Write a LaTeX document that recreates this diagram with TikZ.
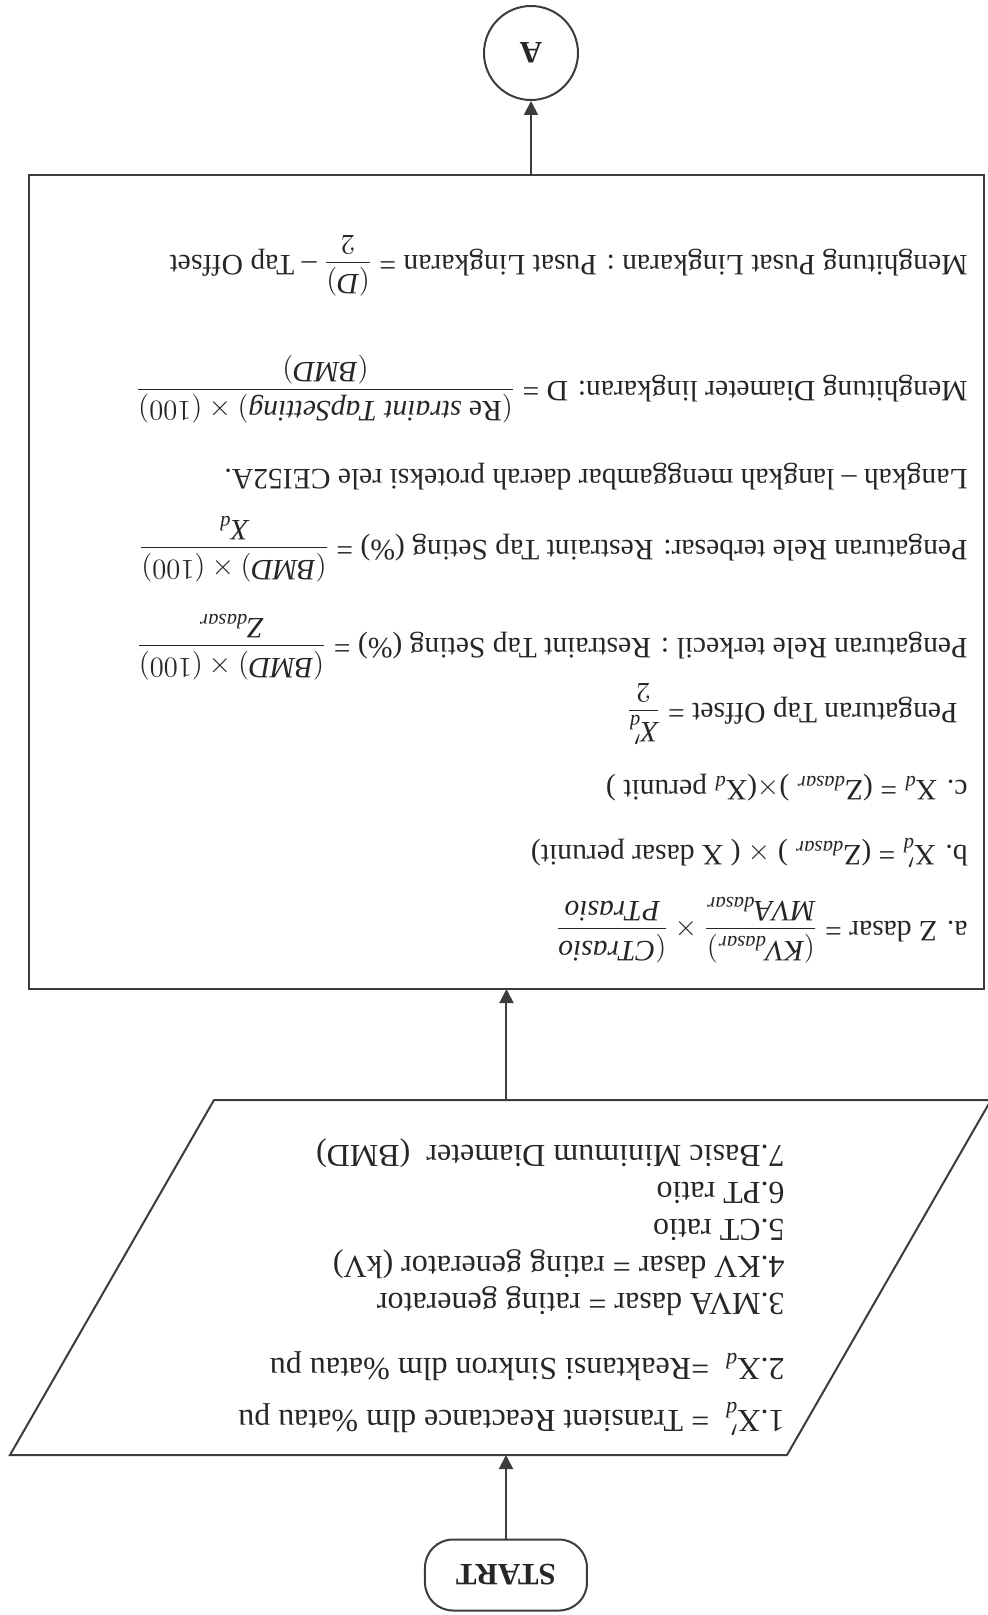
\documentclass[tikz,border=0pt]{standalone}
\usepackage{fontspec}
\setmainfont{Liberation Serif}
\usetikzlibrary{positioning,arrows.meta}
\definecolor{ink}{HTML}{262626}
\definecolor{rule}{HTML}{3C3C3C}
\tikzset{
  startbox/.style = {draw=rule, line width=1pt, rounded corners=14pt, minimum width=81pt, minimum height=35.5pt, inner sep=0pt, font=\fontsize{15.5}{18}\selectfont\bfseries\color{ink}},
  inbox/.style    = {draw=rule, line width=1pt, line join=miter},
  procbox/.style  = {draw=rule, line width=1pt, minimum width=477.5pt, minimum height=407pt, inner sep=0pt, outer sep=0pt},
  conn/.style     = {circle, draw=rule, line width=1pt, minimum size=47pt, inner sep=0pt, font=\fontsize{15.5}{18}\selectfont\bfseries\color{ink}},
  listtxt/.style  = {anchor=west, align=left, inner sep=0pt, font=\fontsize{16}{18.5}\selectfont\color{ink}},
  txt/.style      = {anchor=west, inner sep=0pt, font=\fontsize{14.8}{17}\selectfont\color{ink}},
  flow/.style     = {-{Triangle[length=7pt,width=7pt]}, draw=rule, line width=1pt},
}

\begin{document}
\begin{tikzpicture}[x=0.5pt,y=0.5pt,rotate=180,transform shape]
\path[use as bounding box] (0,0) rectangle (987,1615);

% ---- start and input data -----------------------------------------------
\node[startbox] (start) at (481,1575) {START};
\coordinate (inbl) at (-4,1100);
\coordinate (inbr) at (773,1100);
\coordinate (intr) at (977,1455);
\coordinate (intl) at (200,1455);
\draw[inbox] (inbl) -- (inbr) -- (intr) -- (intl) -- cycle;
\coordinate (intop) at (486,1455);
\coordinate (inbot) at (486,1100);
\node[listtxt] (inlist) at (202,1287) {%
  1.X$'_{\mathit{d}}$\ \ = Transient Reactance dlm \%atau pu\\[7.5pt]
  2.X$_{\mathit{d}}$\ \ =Reaktansi Sinkron dlm \%atau pu\\[14pt]
  3.MVA dasar = rating generator\\
  4.KV dasar = rating generator (kV)\\
  5.CT ratio\\
  6.PT ratio\\
  7.Basic Minimum Diameter\ \ (BMD)};

% ---- calculation box ----------------------------------------------------
\node[procbox] (proc) at (480.5,582) {};
\node[txt] (zdasar) at (19,930) {a. Z dasar\ = $\displaystyle\frac{(\mathit{KV}_{\mathit{dasar}})}{\mathit{MVA}_{\mathit{dasar}}}\times\frac{(\mathit{CTrasio}}{\mathit{PTrasio}}$};
\node[txt] (xdaksen) at (19,853) {b. X$'_{\mathit{d}}$ = (Z$_{\mathit{dasar}}$\ ) $\times$ ( X\ dasar perunit)};
\node[txt] (xd) at (19,788) {c. X$_{\mathit{d}}$ = (Z$_{\mathit{dasar}}$\ )$\times$(X$_{\mathit{d}}$ perunit )};
\node[txt] (tapoff) at (29,714) {Pengaturan Tap Offset = $\displaystyle\frac{\mathit{X}'_{\mathit{d}}}{2}$};
\node[txt] (rkecil) at (19,647) {Pengaturan Rele terkecil : Restraint Tap Seting (\%) = $\displaystyle\frac{(\mathit{BMD})\times(100)}{\mathit{Z}_{\mathit{dasar}}}$};
\node[txt] (rbesar) at (19,549) {Pengaturan Rele terbesar: Restraint Tap Seting (\%) = $\displaystyle\frac{(\mathit{BMD})\times(100)}{\mathit{X}_{\mathit{d}}}$};
\node[txt] (langkah) at (19,477) {Langkah -- langkah menggambar daerah proteksi rele CEI52A.};
\node[txt] (diam) at (19,389) {Menghitung Diameter lingkaran: D = $\displaystyle\frac{(\mathrm{Re}\ \mathit{straint}\ \mathit{TapSetting})\times(100)}{(\mathit{BMD})}$};
\node[txt] (pusat) at (19,266) {Menghitung Pusat Lingkaran : Pusat Lingkaran = $\displaystyle\frac{(\mathit{D})}{2}$ -- Tap Offset};

% ---- off-page connector -------------------------------------------------
\node[conn] (conA) at (456,53) {A};

\draw[flow] (start.south) -- (start.south |- intop);
\draw[flow] (proc.north |- inbot) -- (proc.north);
\draw[flow] (proc.south -| conA) -- (conA.north);
\end{tikzpicture}
\end{document}
